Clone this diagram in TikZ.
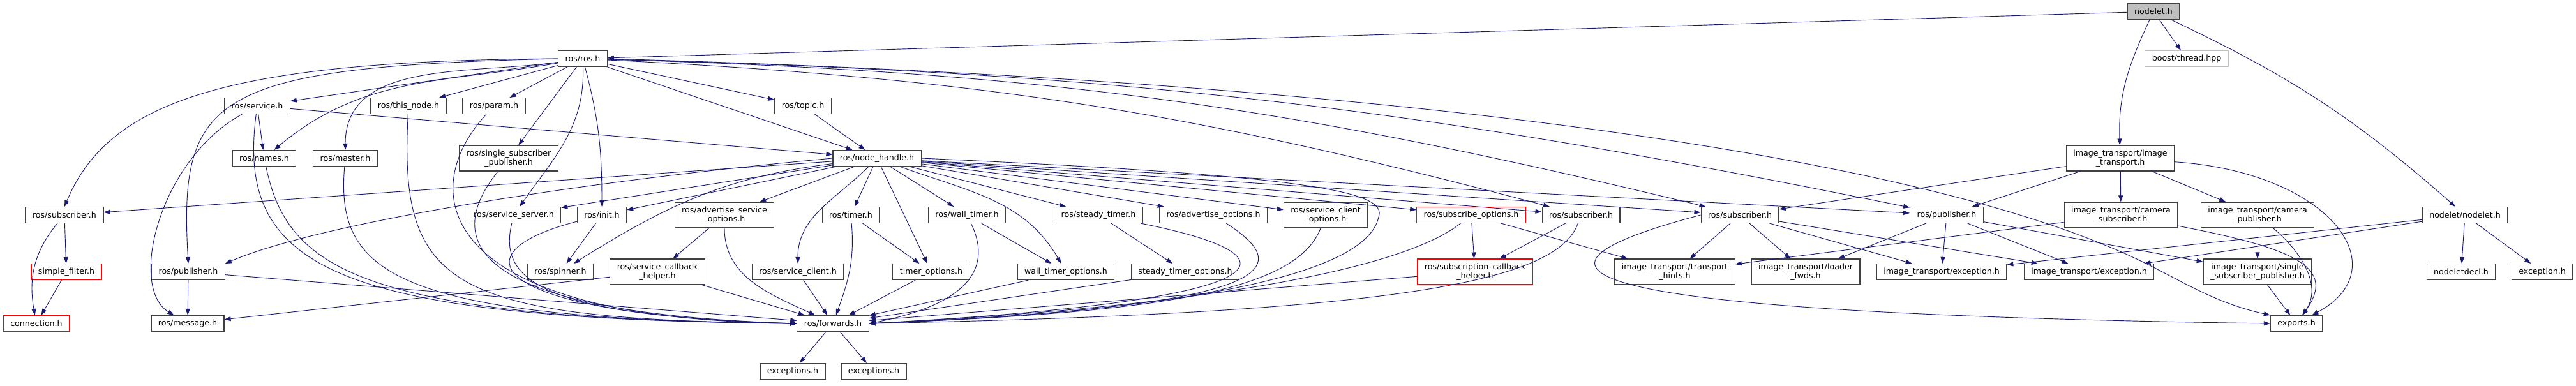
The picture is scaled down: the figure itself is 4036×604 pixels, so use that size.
\documentclass[tikz,border=0pt]{standalone}
\usepackage{fontspec}
\setmainfont{DejaVu Sans}
\usepackage{tikz}
\usetikzlibrary{arrows.meta}
\definecolor{edgeblue}{RGB}{25,25,112}
\definecolor{boxgray}{RGB}{64,64,64}

\begin{document}
\begin{tikzpicture}[x=0.25pt,y=-0.25pt,->,>={Triangle[length=2.5pt,width=1.75pt]},
  every edge/.style={draw=edgeblue,line width=0.23pt},
  dep/.style={draw=edgeblue,line width=0.23pt},
  main/.style={rectangle,draw=boxgray,line width=0.28pt,fill=white,inner xsep=2.75pt,
    inner ysep=0.5pt,minimum height=6.25pt,font=\fontsize{3.15}{3.62}\selectfont},
  two/.style={main,align=center,minimum height=10pt},
  missing/.style={draw=red},
  ext/.style={draw=black!25},
  root/.style={fill=black!25}]
    \useasboundingbox (0,0) rectangle (4036,604);
    % top rows
    \node[main,root] (nodelet) at (3374,18) {nodelet.h};
    \node[main] (rosros) at (913,92) {ros/ros.h};
    \node[main,ext] (boost) at (3426,92) {boost/thread.hpp};
    \node[main] (service) at (403,166) {ros/service.h};
    \node[main] (thisnode) at (640,166) {ros/this\_node.h};
    \node[main] (param) at (774,166) {ros/param.h};
    \node[main] (topic) at (1258,166) {ros/topic.h};
    \node[main] (names) at (414,248) {ros/names.h};
    \node[main] (master) at (541,248) {ros/master.h};
    \node[two] (ssp) at (797,248) {ros/single\_subscriber\\\_publisher.h};
    \node[main] (nh) at (1374,248) {ros/node\_handle.h};
    \node[two] (itimg) at (3322,248) {image\_transport/image\\\_transport.h};
    % middle row
    \node[main] (rossubL) at (101,337) {ros/subscriber.h};
    \node[main] (servserver) at (805,337) {ros/service\_server.h};
    \node[main] (init) at (943,337) {ros/init.h};
    \node[two] (advsrvopt) at (1135,337) {ros/advertise\_service\\\_options.h};
    \node[main] (timer) at (1333,337) {ros/timer.h};
    \node[main] (walltimer) at (1515,337) {ros/wall\_timer.h};
    \node[main] (steadytimer) at (1721,337) {ros/steady\_timer.h};
    \node[main] (advopt) at (1901,337) {ros/advertise\_options.h};
    \node[two] (srvcliopt) at (2077,337) {ros/service\_client\\\_options.h};
    \node[main,missing] (subopt) at (2305,337) {ros/subscribe\_options.h};
    \node[main] (rossubM) at (2477,337) {ros/subscriber.h};
    \node[main] (itsub) at (2726,337) {ros/subscriber.h};
    \node[main] (itpub) at (3050,337) {ros/publisher.h};
    \node[two] (itcamsub) at (3323,337) {image\_transport/camera\\\_subscriber.h};
    \node[two] (itcampub) at (3537,337) {image\_transport/camera\\\_publisher.h};
    \node[main] (nodeletnodelet) at (3862,337) {nodelet/nodelet.h};
    % lower rows
    \node[main,missing] (simplefilter) at (104,426) {simple\_filter.h};
    \node[main] (rospubL) at (295,426) {ros/publisher.h};
    \node[main] (spinner) at (878,426) {ros/spinner.h};
    \node[two] (srvcbhelper) at (1030,426) {ros/service\_callback\\\_helper.h};
    \node[main] (srvclient) at (1250,426) {ros/service\_client.h};
    \node[main] (timeropt) at (1459,426) {timer\_options.h};
    \node[main] (walltimeropt) at (1670,426) {wall\_timer\_options.h};
    \node[main] (steadytimeropt) at (1857,426) {steady\_timer\_options.h};
    \node[two,missing] (subcbhelper) at (2311,426) {ros/subscription\_callback\\\_helper.h};
    \node[two] (transporthints) at (2624,426) {image\_transport/transport\\\_hints.h};
    \node[two] (loaderfwds) at (2829,426) {image\_transport/loader\\\_fwds.h};
    \node[main] (itexc1) at (3042,426) {image\_transport/exception.h};
    \node[main] (itexc2) at (3273,426) {image\_transport/exception.h};
    \node[two] (itssp) at (3537,426) {image\_transport/single\\\_subscriber\_publisher.h};
    \node[main] (nodeletdecl) at (3856,426) {nodeletdecl.h};
    \node[main] (exception) at (3983,426) {exception.h};
    \node[main,missing] (connection) at (57,507) {connection.h};
    \node[main] (message) at (294,507) {ros/message.h};
    \node[main] (forwards) at (1305,507) {ros/forwards.h};
    \node[main] (exports) at (3598,507) {exports.h};
    \node[main] (exceptions1) at (1242,582) {exceptions.h};
    \node[main] (exceptions2) at (1369,582) {exceptions.h};

    % nodelet.h
    \path (nodelet) edge (rosros)
    (nodelet) edge (boost)
    (nodelet) edge[out=-115,in=92] (itimg)
    (nodelet) edge[bend left=8] (nodeletnodelet);
    % ros/ros.h
    \path (rosros) edge (service) edge (thisnode) edge (param) edge (ssp) edge (topic) edge (nh)
    (rosros) edge[out=-88,in=55] (servserver)
    (rosros) edge[out=-75,in=90] (init)
    (rosros) edge[out=190,in=40] (names)
    (rosros) edge[out=188,in=90] (master)
    (rosros) edge[bend left=6] (rossubM)
    (rosros) edge[bend left=6] (itsub)
    (rosros) edge[bend left=5] (itpub);
    \draw[dep] (rosros.west) .. controls (350,95) and (170,160) .. (rossubL.north);
    \draw[dep] (rosros.west) .. controls (330,105) and (280,150) .. (rospubL.north);
    \draw[dep] (rosros.east) .. controls (2300,130) and (3000,260) .. (3300,385)
      .. controls (3400,425) and (3450,470) .. (exports.north west);
    % left side into forwards
    \path (service) edge (names) edge (nh)
    (topic) edge (nh);
    \draw[dep] (service) .. controls (370,420) and (520,500) .. (forwards.west);
    \draw[dep] (names) .. controls (450,420) and (560,500) .. (forwards.west);
    \draw[dep] (master) .. controls (525,430) and (620,500) .. (forwards.west);
    \draw[dep] (thisnode) .. controls (625,450) and (700,500) .. (forwards.west);
    \draw[dep] (param) .. controls (650,300) and (680,500) .. (forwards.west);
    \draw[dep] (ssp) .. controls (690,380) and (740,490) .. (forwards.west);
    \draw[dep] (servserver) .. controls (780,440) and (850,495) .. (forwards.west);
    \draw[dep] (init) .. controls (700,400) and (780,495) .. (forwards.west);
    \draw[dep] (service) .. controls (250,250) and (200,450) .. (message);
    \path (init) edge (spinner)
    (advsrvopt) edge (srvcbhelper)
    (advsrvopt) edge[out=-90,in=155] (forwards)
    (srvcbhelper) edge (message)
    (srvcbhelper) edge (forwards)
    (rospubL) edge (message)
    (rospubL) edge (forwards);
    \path (rossubL) edge (simplefilter)
    (rossubL) edge[out=-130,in=100] (connection)
    (simplefilter) edge (connection);
    % ros/node_handle.h
    \path (nh) edge (rossubL) edge (servserver) edge (init)
    (nh) edge[out=187,in=32] (spinner)
    (nh) edge (advsrvopt)
    (nh) edge[out=-135,in=90] (srvclient)
    (nh) edge (timer) edge (timeropt) edge (walltimer)
    (nh) edge[out=-20,in=120] (walltimeropt)
    (nh) edge (steadytimer) edge (advopt) edge (srvcliopt) edge (subopt)
    (nh) edge (rossubM) edge (itsub) edge (itpub);
    \draw[dep] (nh.west) .. controls (900,285) and (500,350) .. (rospubL.north east);
    \draw[dep] (nh.east) .. controls (2050,275) and (2175,300) .. (2160,340)
      .. controls (2140,440) and (1800,490) .. (forwards.east);
    % right side into forwards
    \path (timer) edge (timeropt)
    (timer) edge[out=-85,in=70] (forwards)
    (timeropt) edge (forwards)
    (walltimer) edge (walltimeropt)
    (walltimeropt) edge (forwards)
    (steadytimer) edge (steadytimeropt)
    (steadytimeropt) edge (forwards)
    (srvclient) edge (forwards)
    (subcbhelper) edge (forwards);
    \draw[dep] (walltimer) .. controls (1560,430) and (1500,480) .. (forwards.east);
    \draw[dep] (srvcliopt) .. controls (2030,460) and (1800,490) .. (forwards.east);
    \draw[dep] (subopt) .. controls (2200,420) and (1900,480) .. (forwards.east);
    \draw[dep] (rossubM) .. controls (2440,440) and (2200,490) .. (forwards.east);
    \draw[dep] (steadytimer) .. controls (2040,400) and (2040,470) .. (forwards.east);
    \draw[dep] (advopt) .. controls (2030,420) and (2010,480) .. (forwards.east);
    \path (subopt) edge (subcbhelper) edge (transporthints)
    (rossubM) edge (subcbhelper)
    (forwards) edge (exceptions1) edge (exceptions2);
    % image_transport
    \path (itimg) edge (itsub) edge (itpub) edge (itcamsub) edge (itcampub)
    (itsub) edge (transporthints) edge (loaderfwds) edge (itexc1) edge (itexc2)
    (itpub) edge (loaderfwds) edge (itexc1) edge (itexc2) edge (itssp)
    (itcamsub) edge (transporthints)
    (itcampub) edge (itssp)
    (itcampub) edge[out=-40,in=55] (exports)
    (itssp) edge (exports)
    (nodeletnodelet) edge (itexc1) edge (itexc2) edge (nodeletdecl) edge (exception);
    \draw[dep] (itimg) .. controls (3650,270) and (3760,420) .. (exports);
    \draw[dep] (itcamsub) .. controls (3600,390) and (3660,420) .. (exports);
    \draw[dep] (itsub.west) .. controls (2350,420) and (2400,490) .. (exports.west);
\end{tikzpicture}
\end{document}
